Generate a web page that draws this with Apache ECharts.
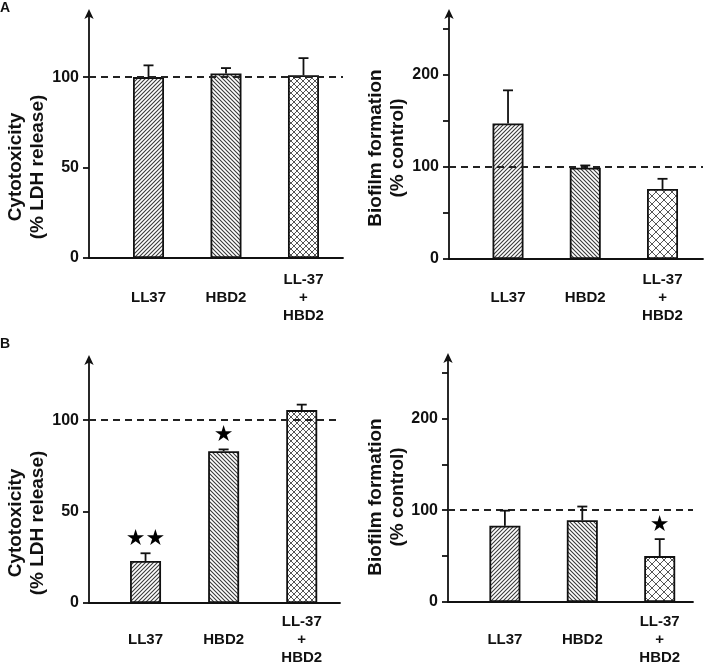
<!DOCTYPE html>
<html>
<head>
<meta charset="utf-8">
<script src="https://cdn.jsdelivr.net/npm/echarts@6/dist/echarts.min.js"></script>
<style>
html,body{margin:0;padding:0;background:#fff;}
#chart{width:705px;height:667px;}
</style>
</head>
<body>
<div id="chart"></div>
<script>
// ---- data ----
const categories = ['LL37', 'HBD2', 'LL-37\n+\nHBD2'];
const xPos = [1, 2, 3];
const cytoA = [100, 102, 101];
const cytoAErr = [6.5, 3, 9.5];
const bioA = [147, 99, 76];
const bioAErr = [36, 2.5, 11];
const cytoB = [23, 83, 105.5];
const cytoBErr = [4.2, 1, 3];
const bioB = [83, 89, 50];
const bioBErr = [16.5, 15, 18.5];
const starsNone = ['', '', ''];
const starsCytoB = ['\u2605\u2605', '\u2605', ''];
const starsBioB = ['', '', '\u2605'];
const cytoTicks = [0, 50, 100];
const cytoLabels = [0, 50, 100];
const bioTicks = [0, 50, 100, 150, 200, 250];
const bioLabels = [0, 100, 200];
const controlLevel = 100;
const cytoTitle = 'Cytotoxicity\n(% LDH release)';
const bioTitle = 'Biofilm formation\n(% control)';
const panelLetters = ['A', 'B'];

// ---- patterns ----
function makeTile(size, dirs, color, lw) {
  const c = document.createElement('canvas');
  c.width = size; c.height = size;
  const g = c.getContext('2d');
  g.fillStyle = '#fff'; g.fillRect(0, 0, size, size);
  g.strokeStyle = color; g.lineWidth = lw;
  dirs.forEach(d => {
    g.beginPath();
    if (d === '/') {
      g.moveTo(0, size); g.lineTo(size, 0);
      g.moveTo(-size / 2, size / 2); g.lineTo(size / 2, -size / 2);
      g.moveTo(size / 2, size * 1.5); g.lineTo(size * 1.5, size / 2);
    } else {
      g.moveTo(0, 0); g.lineTo(size, size);
      g.moveTo(-size / 2, size / 2); g.lineTo(size / 2, size * 1.5);
      g.moveTo(size / 2, -size / 2); g.lineTo(size * 1.5, size / 2);
    }
    g.stroke();
  });
  return { image: c, repeat: 'repeat' };
}
const patFwd = makeTile(4, ['/'], '#3a3a3a', 1.1);
const patBack = makeTile(4, ['\\'], '#3a3a3a', 1.1);
const patCrossFine = makeTile(6, ['/', '\\'], '#555', 1);
const patCrossCoarse = makeTile(8, ['/', '\\'], '#555', 1);

const FONT = 'Liberation Sans, Arial, sans-serif';

const panels = [
  { grid: { left: 89, right: 362, top: 12, height: 246 }, xMin: 0.232, xMax: 3.51, yMax: 136,
    vals: cytoA, errs: cytoAErr, stars: starsNone, ticks: cytoTicks, labels: cytoLabels, cross: patCrossFine, labelMargin: 40 },
  { grid: { left: 449, right: 2, top: 12, height: 247 }, xMin: 0.236, xMax: 3.524, yMax: 268,
    vals: bioA, errs: bioAErr, stars: starsNone, ticks: bioTicks, labels: bioLabels, cross: patCrossCoarse, labelMargin: 39 },
  { grid: { left: 89, right: 365, top: 358, height: 246 }, xMin: 0.276, xMax: 3.49, yMax: 134,
    vals: cytoB, errs: cytoBErr, stars: starsCytoB, ticks: cytoTicks, labels: cytoLabels, cross: patCrossFine, labelMargin: 37 },
  { grid: { left: 448, right: 12, top: 356, height: 247 }, xMin: 0.265, xMax: 3.43, yMax: 268,
    vals: bioB, errs: bioBErr, stars: starsBioB, ticks: bioTicks, labels: bioLabels, cross: patCrossCoarse, labelMargin: 38 }
];

const grids = [], xAxes = [], yAxes = [], series = [];
panels.forEach((p, i) => {
  grids.push(p.grid);
  xAxes.push({
    type: 'value', gridIndex: i, min: p.xMin, max: p.xMax,
    axisLine: { show: true, onZero: false, lineStyle: { color: '#111', width: 1.8 } },
    axisTick: { show: false },
    splitLine: { show: false },
    axisLabel: {
      customValues: xPos,
      formatter: v => categories[Math.round(v) - 1] || '',
      fontFamily: FONT, fontWeight: 'bold', fontSize: 15, color: '#111',
      lineHeight: 18, verticalAlign: 'middle', margin: p.labelMargin
    }
  });
  yAxes.push({
    type: 'value', gridIndex: i, min: 0, max: p.yMax,
    axisLine: { show: true, symbol: ['none', 'arrow'], symbolSize: [7, 10], symbolOffset: [0, 3],
      lineStyle: { color: '#111', width: 1.8 } },
    axisTick: { show: true, customValues: p.ticks, length: 6, lineStyle: { color: '#111', width: 1.8 } },
    splitLine: { show: false },
    axisLabel: {
      customValues: p.labels, margin: 10,
      fontFamily: FONT, fontWeight: 'bold', fontSize: 16, color: '#111'
    }
  });
  series.push({
    type: 'bar', xAxisIndex: i, yAxisIndex: i, barWidth: 31,
    data: xPos.map((x, k) => ({
      value: [x, p.vals[k]],
      itemStyle: { color: [patFwd, patBack, p.cross][k] }
    })),
    itemStyle: { borderColor: '#111', borderWidth: 1.8 },
    markLine: {
      silent: true, symbol: ['none', 'none'], label: { show: false },
      lineStyle: { type: [7, 5], color: '#222', width: 2 },
      data: [{ yAxis: controlLevel }]
    },
    animation: false
  });
  const stars = p.stars;
  series.push({
    type: 'custom', xAxisIndex: i, yAxisIndex: i, z: 5,
    data: xPos.map((x, k) => [x, p.vals[k], p.vals[k] + p.errs[k], k]),
    renderItem: (params, api) => {
      const x = api.value(0), v = api.value(1), t = api.value(2), k = api.value(3);
      const p0 = api.coord([x, v]);
      const p1 = api.coord([x, t]);
      const children = [
        { type: 'line', shape: { x1: p0[0], y1: p0[1], x2: p1[0], y2: p1[1] }, style: { stroke: '#111', lineWidth: 1.8 } },
        { type: 'line', shape: { x1: p1[0] - 5, y1: p1[1], x2: p1[0] + 5, y2: p1[1] }, style: { stroke: '#111', lineWidth: 1.8 } }
      ];
      if (stars[k]) {
        children.push({ type: 'text', x: p1[0], y: p1[1] - 14,
          style: { text: stars[k], fontSize: 22, fontFamily: 'DejaVu Sans', fill: '#000', align: 'center', verticalAlign: 'middle' } });
      }
      return { type: 'group', children };
    },
    animation: false
  });
});

const titleStyle = { fontSize: 19, fontWeight: 'bold', fontFamily: FONT, fill: '#111', align: 'center', verticalAlign: 'middle', lineHeight: 22 };
const graphics = [
  { type: 'text', x: 27, y: 167, rotation: Math.PI / 2, style: Object.assign({ text: cytoTitle }, titleStyle) },
  { type: 'text', x: 387, y: 148, rotation: Math.PI / 2, style: Object.assign({ text: bioTitle }, titleStyle) },
  { type: 'text', x: 27, y: 523, rotation: Math.PI / 2, style: Object.assign({ text: cytoTitle }, titleStyle) },
  { type: 'text', x: 387, y: 497, rotation: Math.PI / 2, style: Object.assign({ text: bioTitle }, titleStyle) },
  { type: 'text', x: 5, y: 8, style: { text: panelLetters[0], fontSize: 14, fontWeight: 'bold', fontFamily: FONT, fill: '#111', align: 'center', verticalAlign: 'middle' } },
  { type: 'text', x: 5, y: 344, style: { text: panelLetters[1], fontSize: 14, fontWeight: 'bold', fontFamily: FONT, fill: '#111', align: 'center', verticalAlign: 'middle' } }
];

const chart = echarts.init(document.getElementById('chart'), null, { renderer: 'canvas' });
chart.setOption({
  backgroundColor: '#fff',
  animation: false,
  grid: grids,
  xAxis: xAxes,
  yAxis: yAxes,
  series: series,
  graphic: graphics
});
</script>
</body>
</html>
